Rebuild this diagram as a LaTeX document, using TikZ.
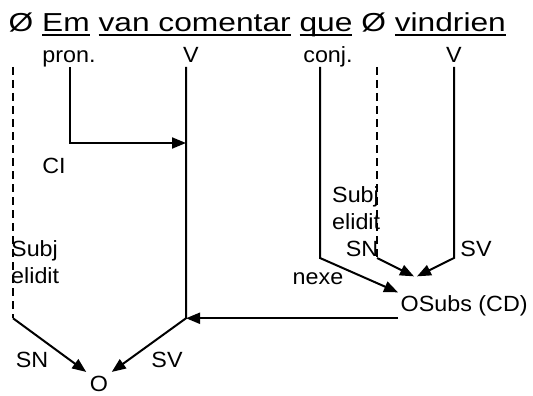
\documentclass[tikz,border=0pt]{standalone}
\usepackage{fontspec}
\setmainfont{Liberation Sans}
\newfontfamily\titlefont[FakeStretch=1.22]{Liberation Sans}
\newfontfamily\labelfont[FakeStretch=1.06]{Liberation Sans}
\usetikzlibrary{arrows.meta}
\newcommand{\wordline}[1]{\setbox0\hbox{#1}\rlap{\rule[-4pt]{\wd0}{2.3pt}}\box0\relax}

\begin{document}
\begin{tikzpicture}[x=1pt,y=-1pt]
	\useasboundingbox (0,0) rectangle (533,396);
	\node[anchor=base west,inner sep=0pt,font=\titlefont\fontsize{26}{30}\selectfont] (sent) at (8.5,32)
		{Ø \wordline{Em} \wordline{van comentar} \wordline{que} Ø \wordline{vindrien}};
	
	\begin{scope}[every node/.style={inner sep=0pt,font=\labelfont\fontsize{22}{27}\selectfont}]
		\node[anchor=base] (pron) at (69,63) {pron.};
		\node[anchor=base] (verbA) at (191,63) {V};
		\node[anchor=base] (conj) at (328,63) {conj.};
		\node[anchor=base] (verbB) at (454,63) {V};
		\node[anchor=base] (ci) at (54,173) {CI};
		\node[anchor=base west,align=left] (elidA) at (11,283) {Subj\\elidit};
		\node[anchor=base west,align=left] (elidB) at (332,229) {Subj\\elidit};
		\node[anchor=base] (snB) at (362,256) {SN};
		\node[anchor=base] (svB) at (476,256) {SV};
		\node[anchor=base] (nexe) at (318,284) {nexe};
		\node[anchor=base] (snA) at (32,367) {SN};
		\node[anchor=base] (svA) at (167,367) {SV};
		\node[anchor=base west,inner sep=2.5pt] (osubs) at (398,311) {OSubs (CD)};
		\node[anchor=base,inner sep=3.5pt] (o) at (99,391) {O};
	\end{scope}
	
	\coordinate (pronTop) at (70,67);
	\coordinate (pronBend) at (70,143);
	\coordinate (verbATop) at (186,67);
	\coordinate (verbABot) at (verbATop |- osubs.south west);
	\coordinate (elidATop) at (13,67);
	\coordinate (elidABot) at (elidATop |- verbABot);
	\coordinate (conjTop) at (320,67);
	\coordinate (conjBot) at (320,258);
	\coordinate (elidBTop) at (377,67);
	\coordinate (elidBBot) at (377,258);
	\coordinate (verbBTop) at (454,67);
	\coordinate (verbBBot) at (454,258);
	\coordinate (join) at ([xshift=17.5pt,yshift=16pt]osubs.north west);
	
	\begin{scope}[>={Triangle[length=14pt,width=11pt]},
		every path/.style={line width=2pt,line join=miter}]
		\draw [->] (pronTop) -- (pronBend) -- (verbATop |- pronBend);
		\draw [->] (verbATop) -- (verbABot) -- (o.north east);
		\draw [dash pattern=on 8pt off 5pt] (elidATop) -- (elidABot);
		\draw [->] (elidABot) -- (o.north west);
		\draw [->] (osubs.south west) -- (verbABot);
		
		\draw [->] (conjTop) -- (conjBot) -- (osubs.north west);
		\draw [dash pattern=on 8pt off 5pt] (elidBTop) -- (elidBBot);
		\draw [->] (elidBBot) -- ([xshift=-1.5pt]join);
		\draw [->] (verbBTop) -- (verbBBot) -- ([xshift=1.5pt]join);
	\end{scope}
\end{tikzpicture}
\end{document}
